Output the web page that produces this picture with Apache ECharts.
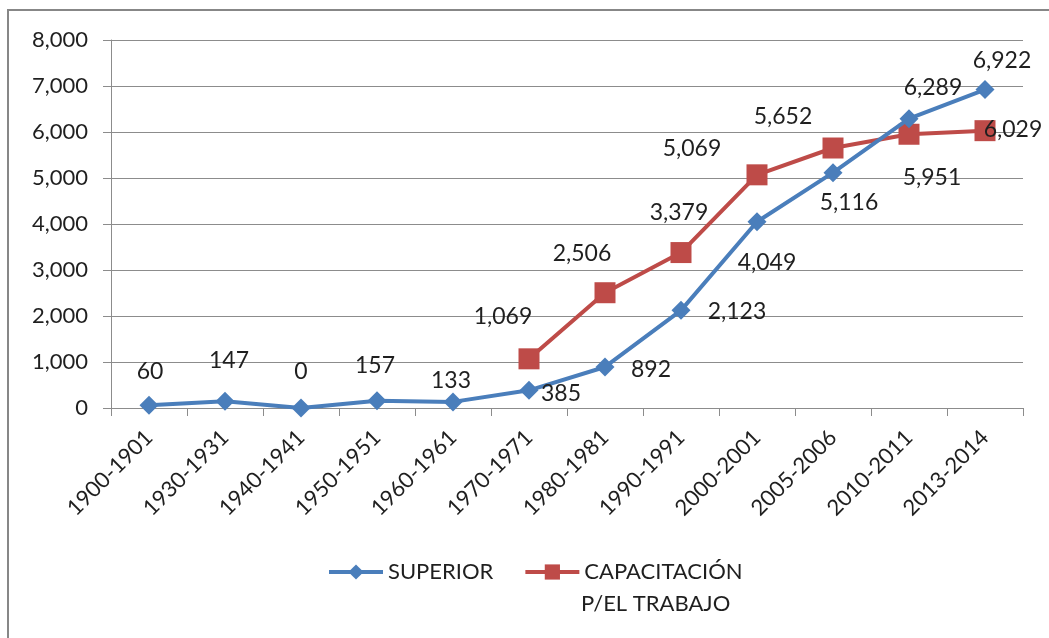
<!DOCTYPE html>
<html>
<head>
<meta charset="utf-8">
<script src="https://cdn.jsdelivr.net/npm/echarts@6/dist/echarts.min.js"></script>
<style>html,body{margin:0;padding:0;background:#fff}#c{width:1049px;height:638px}</style>
</head>
<body>
<div id="c"></div>
<script>
var categories = ['1900-1901','1930-1931','1940-1941','1950-1951','1960-1961','1970-1971','1980-1981','1990-1991','2000-2001','2005-2006','2010-2011','2013-2014'];
var superior = [60,147,0,157,133,385,892,2123,4049,5116,6289,6922];
var capacitacion = [null,null,null,null,null,1069,2506,3379,5069,5652,5951,6029];
var yTicks = {min:0, max:8000, interval:1000};
var seriesNames = ['SUPERIOR','CAPACITACIÓN P/EL TRABAJO'];

// label offsets (style only)
var supOffsets = [[1,-34],[4,-41],[0,-36],[-2,-35],[-2,-21],[32,3],[46,3],[56,1],[10,41],[16,30],[24,-31],[17,-29]];
var capOffsets = [null,null,null,null,null,[-26,-42],[-23,-39],[-2,-40],[-65,-26],[-50,-31],[23,43],[28,-1]];

var FONT = 'Lato';
var TXT = '#1f1f1f';
function fmt(v){ return Number(v).toLocaleString('en-US'); }
function build(vals, offs){
  return vals.map(function(v,i){
    if (v === null) return null;
    return {value:v, label:{show:true, position:'inside', offset:offs[i], formatter:function(p){return fmt(p.value);}}};
  });
}

var chart = echarts.init(document.getElementById('c'));
chart.setOption({
  animation:false,
  textStyle:{fontFamily:FONT},
  grid:{left:111, right:26, top:40, bottom:230, containLabel:false},
  xAxis:{
    type:'category', data:categories, boundaryGap:true,
    axisLine:{lineStyle:{color:'#8c8c8c', width:1}},
    axisTick:{show:true, length:8, lineStyle:{color:'#8c8c8c'}, interval:0},
    axisLabel:{rotate:45, interval:0, color:TXT, fontSize:22, fontFamily:FONT, margin:26}
  },
  yAxis:{
    type:'value', min:yTicks.min, max:yTicks.max, interval:yTicks.interval,
    axisLine:{show:true, lineStyle:{color:'#8c8c8c', width:1}},
    axisTick:{show:true, length:8, lineStyle:{color:'#8c8c8c'}},
    splitLine:{lineStyle:{color:'#8c8c8c', width:1}},
    axisLabel:{color:TXT, fontSize:22, fontFamily:FONT, margin:23, formatter:function(v){return fmt(v);}}
  },
  legend:{
    left:322, top:556, itemWidth:54, itemHeight:19, itemGap:30,
    textStyle:{fontSize:22, color:TXT, fontFamily:FONT},
    lineStyle:{width:4},
    formatter:function(n){ return n === seriesNames[1] ? 'CAPACITACIÓN' : n; },
    data:seriesNames
  },
  series:[
    {
      name:seriesNames[0], type:'line', data:build(superior, supOffsets),
      symbol:'diamond', symbolSize:19, z:3,
      lineStyle:{color:'#4a7ebb', width:4},
      itemStyle:{color:'#4a7ebb'},
      label:{fontSize:23, color:TXT, fontFamily:FONT}
    },
    {
      name:seriesNames[1], type:'line', data:build(capacitacion, capOffsets),
      symbol:'rect', symbolSize:21, z:2,
      lineStyle:{color:'#be4b48', width:4},
      itemStyle:{color:'#be4b48'},
      label:{fontSize:23, color:TXT, fontFamily:FONT}
    }
  ],
  graphic:[
    {type:'rect', silent:true, shape:{x:8, y:10, width:1100, height:700}, style:{fill:'none', stroke:'#878787', lineWidth:2}},
    {type:'text', silent:true, left:581, top:593, style:{text:'P/EL TRABAJO', fontSize:22, fontFamily:FONT, fill:TXT}}
  ]
});
</script>
</body>
</html>
